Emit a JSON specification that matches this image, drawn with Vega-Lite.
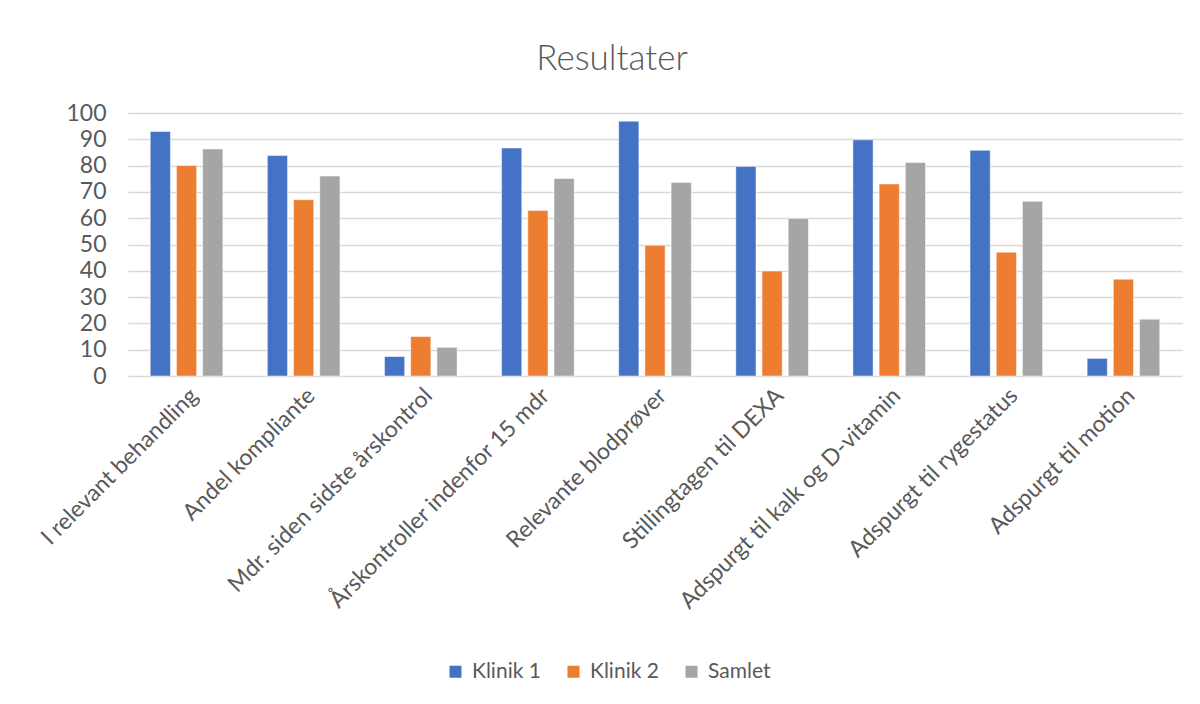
{
  "$schema": "https://vega.github.io/schema/vega-lite/v6.json",
  "autosize": {"type": "none"},
  "width": 1054,
  "height": 263,
  "padding": {"left": 128, "top": 113, "right": 18, "bottom": 328},
  "background": "white",
  "title": {"text": "Resultater", "fontSize": 35, "font": "Lato", "fontWeight": 300, "color": "#595959", "anchor": "middle", "offset": 25, "dx": -43},
  "data": {"values": [
    {"cat": "I relevant behandling", "serie": "Klinik 1", "v": 93},
    {"cat": "I relevant behandling", "serie": "Klinik 2", "v": 80},
    {"cat": "I relevant behandling", "serie": "Samlet", "v": 86.3},
    {"cat": "Andel kompliante", "serie": "Klinik 1", "v": 83.8},
    {"cat": "Andel kompliante", "serie": "Klinik 2", "v": 67},
    {"cat": "Andel kompliante", "serie": "Samlet", "v": 76},
    {"cat": "Mdr. siden sidste årskontrol", "serie": "Klinik 1", "v": 7.4},
    {"cat": "Mdr. siden sidste årskontrol", "serie": "Klinik 2", "v": 15},
    {"cat": "Mdr. siden sidste årskontrol", "serie": "Samlet", "v": 10.9},
    {"cat": "Årskontroller indenfor 15 mdr", "serie": "Klinik 1", "v": 86.7},
    {"cat": "Årskontroller indenfor 15 mdr", "serie": "Klinik 2", "v": 62.9},
    {"cat": "Årskontroller indenfor 15 mdr", "serie": "Samlet", "v": 75.1},
    {"cat": "Relevante blodprøver", "serie": "Klinik 1", "v": 96.9},
    {"cat": "Relevante blodprøver", "serie": "Klinik 2", "v": 49.7},
    {"cat": "Relevante blodprøver", "serie": "Samlet", "v": 73.6},
    {"cat": "Stillingtagen til DEXA", "serie": "Klinik 1", "v": 79.7},
    {"cat": "Stillingtagen til DEXA", "serie": "Klinik 2", "v": 39.9},
    {"cat": "Stillingtagen til DEXA", "serie": "Samlet", "v": 59.9},
    {"cat": "Adspurgt  til kalk og D-vitamin", "serie": "Klinik 1", "v": 89.8},
    {"cat": "Adspurgt  til kalk og D-vitamin", "serie": "Klinik 2", "v": 73},
    {"cat": "Adspurgt  til kalk og D-vitamin", "serie": "Samlet", "v": 81.2},
    {"cat": "Adspurgt til rygestatus", "serie": "Klinik 1", "v": 85.8},
    {"cat": "Adspurgt til rygestatus", "serie": "Klinik 2", "v": 47.1},
    {"cat": "Adspurgt til rygestatus", "serie": "Samlet", "v": 66.4},
    {"cat": "Adspurgt til motion", "serie": "Klinik 1", "v": 6.7},
    {"cat": "Adspurgt til motion", "serie": "Klinik 2", "v": 36.8},
    {"cat": "Adspurgt til motion", "serie": "Samlet", "v": 21.6}
  ]},
  "mark": {"type": "bar", "stroke": "white", "strokeWidth": 0.5},
  "encoding": {
    "x": {
      "field": "cat", "type": "nominal", "sort": null, "title": null,
      "scale": {"paddingInner": 0.38, "paddingOuter": 0.19},
      "axis": {"labelAngle": -45, "labelFontSize": 23, "labelFont": "Lato", "labelColor": "#595959", "labelLimit": 400, "ticks": false, "domain": false, "labelPadding": 8}
    },
    "xOffset": {"field": "serie", "type": "nominal", "scale": {"paddingInner": 0.23, "paddingOuter": 0}},
    "y": {
      "field": "v", "type": "quantitative", "title": null,
      "scale": {"domain": [0, 100], "nice": false},
      "axis": {"values": [0,10,20,30,40,50,60,70,80,90,100], "labelFontSize": 23, "labelFont": "Lato", "labelColor": "#595959", "ticks": false, "domain": false, "gridColor": "#D9D9D9", "gridWidth": 1.5, "labelPadding": 22}
    },
    "color": {
      "field": "serie", "type": "nominal", "title": null,
      "scale": {"domain": ["Klinik 1", "Klinik 2", "Samlet"], "range": ["#4472C4", "#ED7D31", "#A5A5A5"]},
      "legend": {"orient": "none", "direction": "horizontal", "legendX": 317, "legendY": 548, "symbolType": "square", "symbolSize": 144, "symbolStrokeWidth": 0, "labelFontSize": 21, "labelFont": "Lato", "labelColor": "#595959", "labelOffset": 6, "columnPadding": 22}
    }
  },
  "config": {"view": {"stroke": null}}
}
